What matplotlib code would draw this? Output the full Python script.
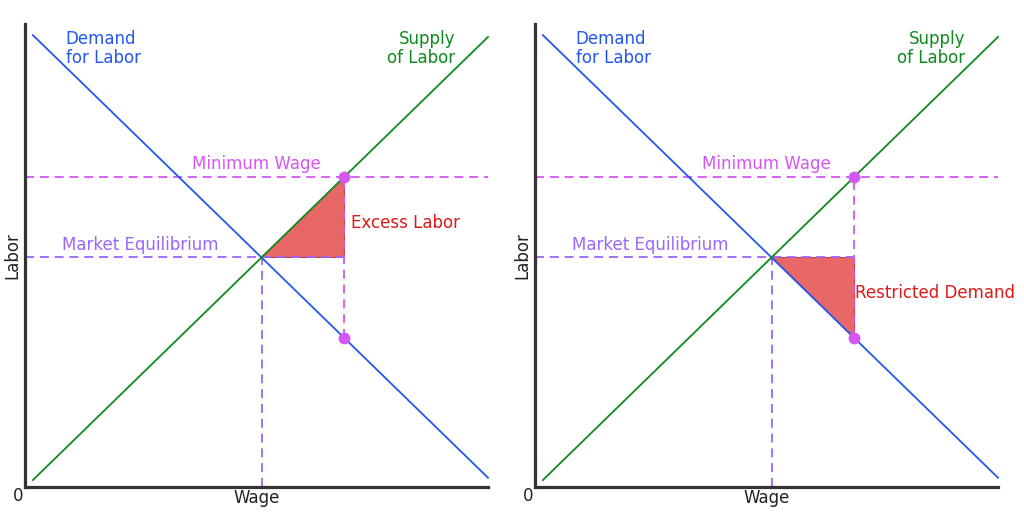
import numpy as np
import matplotlib
matplotlib.use("Agg")
from matplotlib import pyplot as plt

# curve end points (wage, labor) in axis units 0..10
demand_x = [0.17, 10.0]
demand_y = [9.76, 0.20]
supply_x = [0.17, 10.0]
supply_y = [0.15, 9.72]
min_wage_level = 6.70
panels = ["Excess Labor", "Restricted Demand"]

BLUE = "#2457f0"
GREEN = "#0f8a1e"
MAGENTA = "#d655f5"
PURPLE = "#9b66fa"
RED = "#dd1a1a"
FILL = "#e86868"
AXIS = "#333333"
FONT = "DejaVu Sans"
FS = 12


def line_params(xs, ys):
    k = (ys[1] - ys[0]) / (xs[1] - xs[0])
    return k, ys[0] - k * xs[0]


kd, bd = line_params(demand_x, demand_y)
ks, bs = line_params(supply_x, supply_y)
eq_x = (bd - bs) / (ks - kd)
eq_y = ks * eq_x + bs
# wage where minimum-wage line meets supply
mw_x = (min_wage_level - bs) / ks
mw_supply = min_wage_level
mw_demand = kd * mw_x + bd

fig = plt.figure(figsize=(10.24, 5.12), dpi=100)
dash = (0, (5, 3.2))

for i, name in enumerate(panels):
    left = (25 + i * 510) / 1024
    ax = fig.add_axes([left, 25 / 512, 463 / 1024, 463 / 512])
    ax.set_xlim(0, 10)
    ax.set_ylim(0, 10)
    for s in ["top", "right"]:
        ax.spines[s].set_visible(False)
    for s in ["left", "bottom"]:
        ax.spines[s].set_color(AXIS)
        ax.spines[s].set_linewidth(2.3)
    ax.set_xticks([])
    ax.set_yticks([])

    # shaded triangle
    if i == 0:
        tri_x = [eq_x, mw_x, mw_x]
        tri_y = [eq_y, mw_supply, eq_y]
    else:
        tri_x = [eq_x, mw_x, mw_x]
        tri_y = [eq_y, eq_y, mw_demand]
    ax.fill(tri_x, tri_y, color=FILL, zorder=1, lw=0.8, ec="#c83a4a")

    # reference lines
    ax.plot([0, 10], [min_wage_level, min_wage_level], color=MAGENTA, lw=1.3,
            linestyle=dash, zorder=2)
    ax.plot([0, mw_x], [eq_y, eq_y], color=PURPLE, lw=1.3, linestyle=dash, zorder=2)
    ax.plot([eq_x, eq_x], [0, eq_y], color=PURPLE, lw=1.3, linestyle=dash, zorder=2)
    ax.plot([mw_x, mw_x], [mw_demand, mw_supply], color=MAGENTA, lw=1.3,
            linestyle=dash, zorder=2)

    # curves
    ax.plot(demand_x, demand_y, color=BLUE, lw=1.3, zorder=3, clip_on=False)
    ax.plot(supply_x, supply_y, color=GREEN, lw=1.3, zorder=3, clip_on=False)

    ax.plot([mw_x, mw_x], [mw_supply, mw_demand], "o", color=MAGENTA, ms=8.5,
            mec="none", zorder=4)

    # labels
    ax.text(0.88, 9.88, "Demand\nfor Labor", color=BLUE, fontsize=FS, family=FONT,
            va="top", ha="left", linespacing=1.1)
    ax.text(9.3, 9.88, "Supply\nof Labor", color=GREEN, fontsize=FS, family=FONT,
            va="top", ha="right", multialignment="right", linespacing=1.1)
    ax.text(5.0, 6.98, "Minimum Wage", color=MAGENTA, fontsize=FS, family=FONT,
            ha="center", va="center")
    ax.text(0.8, 5.22, "Market Equilibrium", color=PURPLE, fontsize=FS, family=FONT,
            ha="left", va="center")
    if i == 0:
        ax.text(7.05, 5.7, name, color=RED, fontsize=FS, family=FONT,
                ha="left", va="center")
    else:
        ax.text(6.92, 4.2, name, color=RED, fontsize=FS, family=FONT,
                ha="left", va="center")

    ax.text(-0.27, 5.0, "Labor", color="#222222", fontsize=FS, family=FONT,
            rotation=90, ha="center", va="center")
    ax.text(5.0, -0.24, "Wage", color="#222222", fontsize=FS, family=FONT,
            ha="center", va="center")
    ax.text(-0.15, -0.2, "0", color="#222222", fontsize=FS, family=FONT,
            ha="center", va="center")

fig.savefig("out.png", dpi=100)
